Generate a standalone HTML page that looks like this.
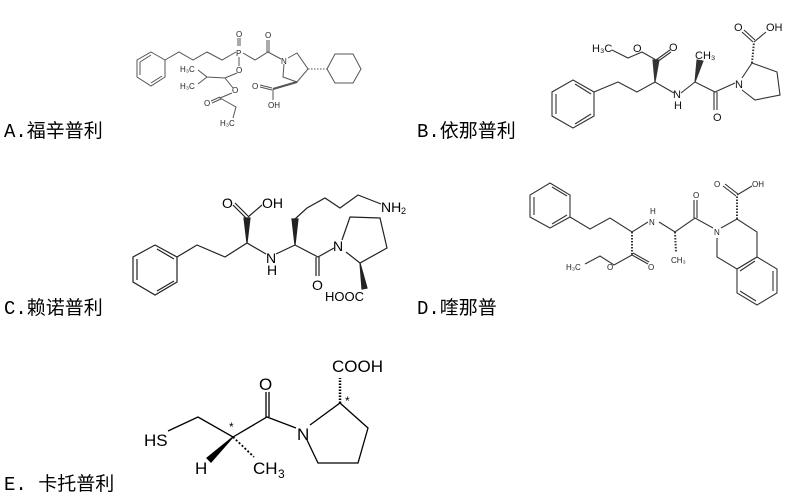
<!DOCTYPE html>
<html><head><meta charset="utf-8"><style>
html,body{margin:0;padding:0;background:#fff;}
svg{display:block}
.lb{font-family:"Liberation Mono","Noto Sans CJK SC",monospace;font-size:19px;fill:#000}
.a{font-family:"Liberation Sans",sans-serif;font-size:8px;fill:#222}
.b{font-family:"Liberation Sans",sans-serif;font-size:11px;fill:#111}
.e{font-family:"Liberation Sans",sans-serif;font-size:17px;fill:#000}
</style></head><body>
<svg width="809" height="501" viewBox="0 0 809 501" xmlns="http://www.w3.org/2000/svg">
<text class="lb" x="4" y="137">A.福辛普利</text>
<text class="lb" x="417" y="137">B.依那普利</text>
<text class="lb" x="4" y="314">C.赖诺普利</text>
<text class="lb" x="417" y="314">D.喹那普</text>
<text class="lb" x="4" y="490">E. 卡托普利</text>

<!-- A -->
<g stroke="#555" stroke-width="1" fill="none">
<polygon points="151,52 165,60 165,77 151,86 137,77 137,60"/>
<polyline points="140,62 151,55 M140,75"/>
<line x1="151" y1="83" x2="162" y2="76"/><line x1="140" y1="62" x2="140" y2="75"/>
<polyline points="165,60 179,52 193,60 207,52 222,60 236,52"/>
<line x1="238" y1="46" x2="238" y2="38"/><line x1="240" y1="46" x2="240" y2="38"/>
<line x1="239" y1="57" x2="239" y2="66"/>
<polyline points="243,53 255,60 268,52 281,59"/>
<line x1="267" y1="52" x2="267" y2="40"/><line x1="269" y1="52" x2="269" y2="40"/>
<polyline points="288,58 297,53 308,69 297,82 283,77 284,64"/>
<polygon points="327,69 335,54 353,54 361,69 353,83 335,83"/>
<line x1="308" y1="69" x2="327" y2="69" stroke-dasharray="1.5,1.5"/>
<line x1="297" y1="82" x2="273" y2="89" stroke-width="2.2"/>
<line x1="272" y1="88" x2="260" y2="85"/><line x1="272" y1="90" x2="260" y2="87"/>
<line x1="273" y1="89" x2="273" y2="100"/>
<polyline points="237,73 225,78 207,77 198,70"/>
<line x1="207" y1="77" x2="198" y2="84"/>
<line x1="225" y1="78" x2="233" y2="88"/>
<polyline points="232,93 220,98 236,107 233,118"/>
<line x1="220" y1="97" x2="211" y2="101"/><line x1="221" y1="99" x2="212" y2="103"/>
</g>
<text class="a" x="236" y="56">P</text><text class="a" x="236" y="37">O</text>
<text class="a" x="236" y="73">O</text><text class="a" x="265" y="38">O</text>
<text class="a" x="281" y="64">N</text><text class="a" x="252" y="89">O</text>
<text class="a" x="268" y="108">OH</text>
<text class="a" x="180" y="72">H₃C</text><text class="a" x="180" y="89">H₃C</text>
<text class="a" x="232" y="93">O</text><text class="a" x="204" y="106">O</text>
<text class="a" x="220" y="126">H₃C</text>

<!-- B -->
<g stroke="#333" stroke-width="1.1" fill="none">
<polygon points="573,80 594,92 594,116 573,128 552,116 552,92"/>
<line x1="556" y1="94" x2="556" y2="114"/><line x1="575" y1="124" x2="591" y2="114"/><line x1="575" y1="84" x2="591" y2="94"/>
<polyline points="594,92 618,82 637,92 655,82 674,93"/>
<polyline points="681,93 695,82 715,92 735,83"/>
<polygon points="655,82 653,60 659,60" fill="#333"/>
<line x1="656" y1="60" x2="670" y2="50"/><line x1="657" y1="62" x2="671" y2="52"/>
<polyline points="656,60 642,52 628,58 612,50"/>
<polygon points="695,82 697,60 703,61" fill="#333"/>
<line x1="714" y1="92" x2="714" y2="110"/><line x1="717" y1="92" x2="717" y2="110"/>
<polyline points="742,78 752,63 777,72 780,95 755,100 742,90"/>
<line x1="752" y1="63" x2="754" y2="42" stroke-dasharray="1.5,1.5" stroke-width="2"/>
<line x1="753" y1="42" x2="742" y2="32"/><line x1="755" y1="40" x2="744" y2="30"/>
<line x1="754" y1="42" x2="766" y2="32"/>
</g>
<text class="b" x="592" y="52">H₃C</text><text class="b" x="633" y="52">O</text>
<text class="b" x="669" y="51">O</text><text class="b" x="695" y="59">CH₃</text>
<text class="b" x="673" y="98">N</text><text class="b" x="674" y="109">H</text>
<text class="b" x="713" y="121">O</text><text class="b" x="735" y="88">N</text>
<text class="b" x="734" y="31">O</text><text class="b" x="766" y="31">OH</text>

<!-- C -->
<g stroke="#222" stroke-width="1.2" fill="none">
<polygon points="155,245 177,257 177,282 155,295 133,282 133,257"/>
<line x1="137" y1="259" x2="137" y2="280"/><line x1="157" y1="291" x2="174" y2="281"/><line x1="157" y1="249" x2="174" y2="259"/>
<polyline points="177,257 197,245 225,257 247,243 266,254"/>
<polygon points="247,243 244,218 250,218" fill="#222"/>
<line x1="246" y1="218" x2="233" y2="205"/><line x1="248" y1="216" x2="235" y2="203"/>
<line x1="248" y1="217" x2="262" y2="205"/>
<polyline points="276,254 295,245 318,257 334,248"/>
<polygon points="295,245 292,219 298,219" fill="#222"/>
<polyline points="295,219 307,208 325,198 340,208 358,195 381,204"/>
<line x1="316" y1="257" x2="316" y2="276"/><line x1="319" y1="257" x2="319" y2="276"/>
<polyline points="342,240 350,217 380,218 387,248 360,263 346,252"/>
<polygon points="360,263 362,289 367,288" fill="#222"/>
</g>
<text class="e" style="font-size:14px" x="222" y="208">O</text><text class="e" style="font-size:14px" x="262" y="208">OH</text>
<text class="e" style="font-size:14px" x="266" y="263">N</text><text class="e" style="font-size:14px" x="267" y="275">H</text>
<text class="e" style="font-size:14px" x="312" y="290">O</text><text class="e" style="font-size:14px" x="333" y="251">N</text>
<text class="e" style="font-size:14px" x="381" y="212">NH</text><text class="e" style="font-size:9px" x="401" y="214">2</text>
<text class="e" style="font-size:13px" x="325" y="301">HOOC</text>

<!-- D -->
<g stroke="#333" stroke-width="1.1" fill="none">
<polygon points="550,183 570,195 570,217 550,228 530,217 530,195"/>
<line x1="534" y1="197" x2="534" y2="215"/><line x1="552" y1="224" x2="567" y2="215"/><line x1="552" y1="187" x2="567" y2="196"/>
<polyline points="570,217 590,229 610,218 632,232 648,222"/>
<polyline points="659,222 675,232 695,218 713,228"/>
<line x1="632" y1="232" x2="632" y2="255" stroke-dasharray="1.5,1.5" stroke-width="2"/>
<line x1="632" y1="255" x2="648" y2="264"/><line x1="633" y1="253" x2="649" y2="262"/>
<polyline points="632,255 614,265 600,256 585,264"/>
<line x1="675" y1="232" x2="676" y2="252" stroke-dasharray="1.5,1.5" stroke-width="2"/>
<line x1="694" y1="218" x2="694" y2="200"/><line x1="697" y1="218" x2="697" y2="200"/>
<polyline points="721,228 737,219 757,232 757,257 737,269 717,257 717,238"/>
<polygon points="757,257 777,269 777,293 757,305 737,293 737,269"/>
<line x1="773" y1="271" x2="773" y2="291"/><line x1="740" y1="291" x2="756" y2="301"/><line x1="740" y1="271" x2="755" y2="261"/>
<line x1="737" y1="219" x2="737" y2="196" stroke-dasharray="1.5,1.5" stroke-width="2"/>
<line x1="736" y1="196" x2="723" y2="186"/><line x1="738" y1="194" x2="725" y2="184"/>
<line x1="737" y1="195" x2="752" y2="186"/>
</g>
<text class="a" x="650" y="214">H</text><text class="a" x="649" y="225">N</text>
<text class="a" x="648" y="270">O</text><text class="a" x="607" y="270">O</text>
<text class="a" x="566" y="270">H₃C</text><text class="a" x="671" y="263">CH₃</text>
<text class="a" x="693" y="198">O</text><text class="a" x="714" y="235">N</text>
<text class="a" x="714" y="187">O</text><text class="a" x="752" y="187">OH</text>

<!-- E -->
<g stroke="#000" stroke-width="1.3" fill="none">
<polyline points="168,431 198,417 233,437 267,417 296,428"/>
<polygon points="233,437 207,458 211,462" fill="#000"/>
<line x1="233" y1="437" x2="254" y2="457" stroke-dasharray="2,2" stroke-width="1.8"/>
<line x1="266" y1="417" x2="266" y2="392"/><line x1="269" y1="417" x2="269" y2="392"/>
<polyline points="310,425 340,403 368,428 358,463 318,463 307,440"/>
<line x1="340" y1="403" x2="340" y2="378" stroke-dasharray="1.5,1.5" stroke-width="2.5"/>
</g>
<text class="e" x="144" y="446">HS</text><text class="e" x="195" y="474">H</text>
<text class="e" x="253" y="474">CH</text><text class="e" style="font-size:12px" x="278" y="478">3</text>
<text class="e" x="259" y="390">O</text><text class="e" x="297" y="440">N</text>
<text class="e" x="332" y="372">COOH</text>
<text class="e" style="font-size:12px" x="229" y="431">*</text><text class="e" style="font-size:12px" x="345" y="405">*</text>
</svg>
</body></html>
